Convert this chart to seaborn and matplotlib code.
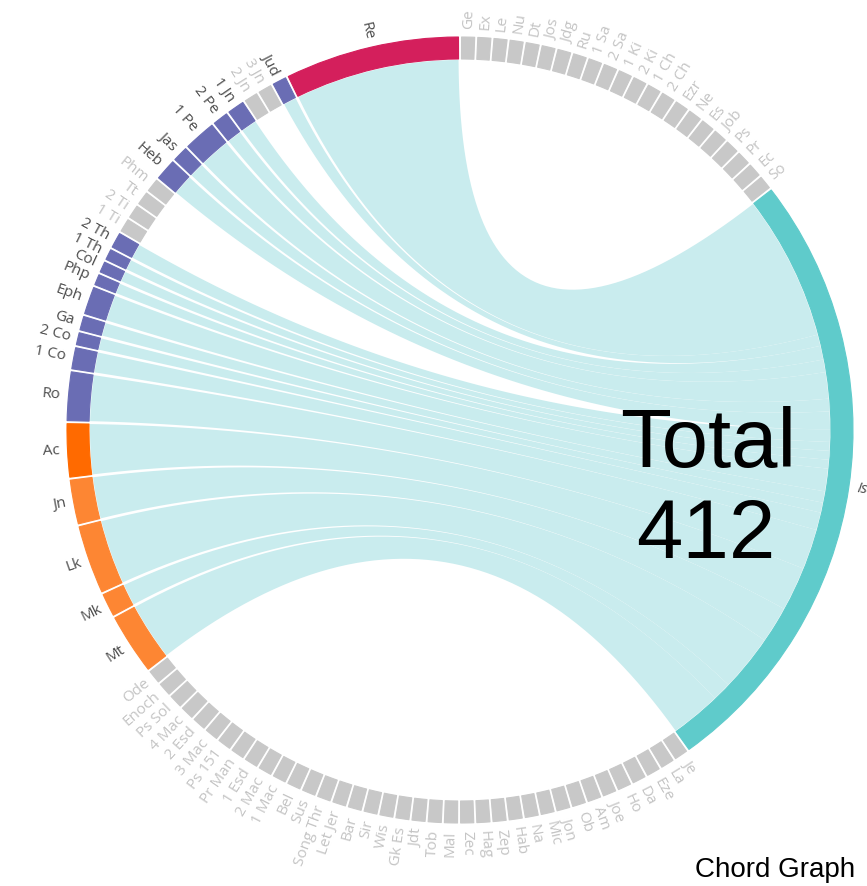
import numpy as np
import matplotlib
matplotlib.use("Agg")
import matplotlib.pyplot as plt
from matplotlib.patches import Wedge, Polygon
import seaborn as sns

# books in clockwise order starting at 12 o'clock
ot_top = ["Ge", "Ex", "Le", "Nu", "Dt", "Jos", "Jdg", "Ru", "1 Sa", "2 Sa", "1 Ki",
          "2 Ki", "1 Ch", "2 Ch", "Ezr", "Ne", "Es", "Job", "Ps", "Pr", "Ec", "So"]
ot_bottom = ["Je", "La", "Eze", "Da", "Ho", "Joe", "Am", "Ob", "Jon", "Mic", "Na",
             "Hab", "Zep", "Hag", "Zec", "Mal"]
apocrypha = ["Tob", "Jdt", "Gk Es", "Wis", "Sir", "Bar", "Let Jer", "Song Thr", "Sus",
             "Bel", "1 Mac", "2 Mac", "1 Esd", "Pr Man", "Ps 151", "3 Mac", "2 Esd",
             "4 Mac", "Ps Sol", "Enoch", "Ode"]
nt_books = ["Mt", "Mk", "Lk", "Jn", "Ac", "Ro", "1 Co", "2 Co", "Ga", "Eph", "Php", "Col",
            "1 Th", "2 Th", "1 Ti", "2 Ti", "Tt", "Phm", "Heb", "Jas", "1 Pe", "2 Pe",
            "1 Jn", "2 Jn", "3 Jn", "Jud", "Re"]
# references to Isaiah per NT book
nt_refs = [40, 15, 45, 29, 35, 32, 14, 8, 9, 18, 7, 7,
           7, 10, 0, 0, 0, 0, 14, 10, 21, 10,
           11, 0, 0, 9, 115]
nt_group = ["gospel"] * 4 + ["acts"] + ["epistle"] * 21 + ["apocalypse"]
source_book = "Is"
total_refs = 412

group_colors = {"gospel": "#fd8633", "acts": "#ff6a00", "epistle": "#6a6db4",
                "apocalypse": "#d41f5c"}
EMPTY_COLOR = "#c8c8c8"
IS_COLOR = "#5fcbcb"
RIBBON_COLOR = "#c9ecee"

W, H = 867, 886
CX, CY = 460, H - 430
R_OUT, RING_W = 393, 22
R_IN = R_OUT - RING_W
GAP = 0.45          # degrees between blocks
EMPTY_SPAN = 1.92   # degrees for a book without references

sns.set_theme(style="white")
plt.rcParams["font.family"] = ["Open Sans", "DejaVu Sans"]

# ---- layout ----
names = ot_top + [source_book] + ot_bottom + apocrypha + nt_books
refs = dict(zip(nt_books, nt_refs))
n_empty = sum(1 for n in names if n != source_book and refs.get(n, 0) == 0)
deg_per_ref = (360 - len(names) * GAP - n_empty * EMPTY_SPAN) / (sum(nt_refs) + total_refs)

blocks = {}
cur = 90 - GAP / 2
for n in names:
    if n == source_book:
        span, color = total_refs * deg_per_ref, IS_COLOR
    elif refs.get(n, 0) > 0:
        span = refs[n] * deg_per_ref
        color = group_colors[nt_group[nt_books.index(n)]]
    else:
        span, color = EMPTY_SPAN, EMPTY_COLOR
    blocks[n] = (cur, cur - span, color)
    cur = cur - span - GAP


def pt(a, r):
    t = np.radians(a)
    return np.array([CX + r * np.cos(t), CY + r * np.sin(t)])


def arc(a0, a1, r, n=40):
    t = np.radians(np.linspace(a0, a1, n))
    return np.column_stack([CX + r * np.cos(t), CY + r * np.sin(t)])


def bezier(p0, p2, n=60):
    t = np.linspace(0, 1, n)[:, None]
    c = np.array([CX, CY])
    return (1 - t) ** 2 * p0 + 2 * (1 - t) * t * c + t ** 2 * p2


fig = plt.figure(figsize=(W / 100, H / 100), dpi=100)
ax = fig.add_axes([0, 0, 1, 1])
ax.set_xlim(0, W)
ax.set_ylim(0, H)
ax.axis("off")

# ---- ribbons ----
is0, is1, _ = blocks[source_book]
is_span = is0 - is1
linked_total = sum(nt_refs)
r_rib = R_IN - 1
cur = is0
for b in reversed(nt_books):
    if refs[b] == 0:
        continue
    w = refs[b] / linked_total * is_span
    i0, i1 = cur, cur - w
    cur = i1
    b0, b1, _ = blocks[b]
    poly = np.vstack([
        arc(b0, b1, r_rib),
        bezier(pt(b1, r_rib), pt(i0, r_rib)),
        arc(i0, i1, r_rib),
        bezier(pt(i1, r_rib), pt(b0, r_rib)),
    ])
    ax.add_patch(Polygon(poly, closed=True, facecolor=RIBBON_COLOR, edgecolor="none", zorder=1))

# ---- ring and labels ----
for n in names:
    a0, a1, color = blocks[n]
    ax.add_patch(Wedge((CX, CY), R_OUT, a1, a0, width=RING_W, facecolor=color,
                       edgecolor=color, lw=0.8, joinstyle="round", zorder=2))
    mid = (a0 + a1) / 2
    x, y = pt(mid, R_OUT + 8)
    ang = mid % 360
    if ang > 180:
        ang -= 360
    if -90 <= ang <= 90:
        rot, ha = ang, "left"
    else:
        rot, ha = ang - 180 if ang > 0 else ang + 180, "right"
    txt_color = "#c4c4c4" if color == EMPTY_COLOR else "#4d4d4d"
    ax.text(x, y, n, rotation=rot, rotation_mode="anchor", ha=ha, va="center",
            fontsize=11, color=txt_color,
            style="italic" if n == source_book else "normal", zorder=3)

# ---- totals ----
ax.text(708, H - 467, "Total", ha="center", va="baseline", fontsize=60,
        family=["Liberation Sans", "DejaVu Sans"], color="black", zorder=4)
ax.text(706, H - 558, str(total_refs), ha="center", va="baseline", fontsize=60,
        family=["Liberation Sans", "DejaVu Sans"], color="black", zorder=4)
ax.text(695, H - 877, "Chord Graph", ha="left", va="baseline", fontsize=20,
        family=["Liberation Sans", "DejaVu Sans"], color="black", zorder=4)

fig.savefig("out.png", dpi=100, facecolor="white")
plt.close(fig)
